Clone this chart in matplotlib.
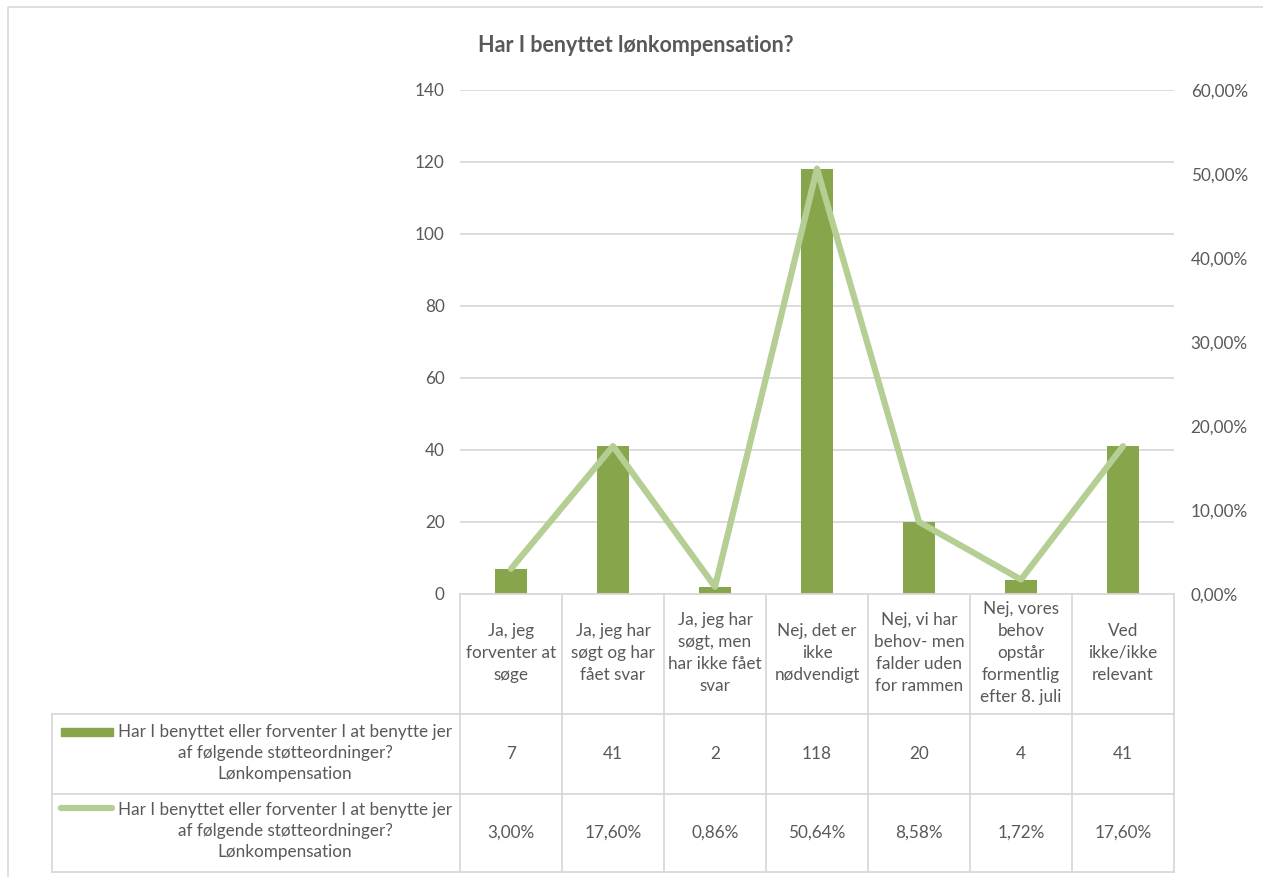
import matplotlib
matplotlib.use("Agg")
import matplotlib.pyplot as plt
from matplotlib.lines import Line2D
from matplotlib.patches import Rectangle

plt.rcParams['font.family'] = ['Lato', 'DejaVu Sans']

# data
categories = ["Ja, jeg\nforventer at\nsøge", "Ja, jeg har\nsøgt og har\nfået svar",
              "Ja, jeg har\nsøgt, men\nhar ikke fået\nsvar", "Nej, det er\nikke\nnødvendigt",
              "Nej, vi har\nbehov- men\nfalder uden\nfor rammen", "Nej, vores\nbehov\nopstår\nformentlig\nefter 8. juli",
              "Ved\nikke/ikke\nrelevant"]
counts = [7, 41, 2, 118, 20, 4, 41]
shares = [3.00, 17.60, 0.86, 50.64, 8.58, 1.72, 17.60]
series_name = "Har I benyttet eller forventer I at benytte jer\naf følgende støtteordninger?\nLønkompensation"
title = "Har I benyttet lønkompensation?"

bar_color = "#87A54B"
line_color = "#B5CE94"
text_color = "#595959"
grid_color = "#D9D9D9"
fs = 12.3

W, H = 1263, 877
fig = plt.figure(figsize=(W / 100, H / 100), dpi=100)

def fx(px):
    return px / W

def fy(py):
    return 1 - py / H

# plot area
left, right, top, bottom = 460, 1174, 90, 594
ax = fig.add_axes([fx(left), fy(bottom), fx(right) - fx(left), fy(top) - fy(bottom)])
x = list(range(len(categories)))
ax.bar(x, counts, width=0.31, color=bar_color, zorder=2)
ax.set_xlim(-0.5, len(categories) - 0.5)
ax.set_ylim(0, 140)
ax.set_yticks(range(0, 141, 20))
ax.yaxis.grid(True, color=grid_color, linewidth=1.3)
ax.set_axisbelow(True)
ax.set_xticks([])
for s in ax.spines.values():
    s.set_visible(False)
ax.tick_params(axis='y', length=0, pad=11, labelsize=fs, labelcolor=text_color)

ax2 = ax.twinx()
ax2.plot(x, shares, color=line_color, linewidth=4.5, solid_capstyle='round', zorder=3)
ax2.set_ylim(0, 60)
ax2.set_yticks(range(0, 61, 10))
ax2.set_yticklabels([f"{v:.2f}".replace(".", ",") + "%" for v in range(0, 61, 10)])
for s in ax2.spines.values():
    s.set_visible(False)
ax2.tick_params(axis='y', length=0, pad=12, labelsize=fs, labelcolor=text_color)

fig.text(fx(636), fy(45), title, ha='center', va='center', fontsize=15.5,
         fontweight='bold', color=text_color)

# chart frame (only top and left edges are in view)
fig.add_artist(Line2D([fx(8), fx(8), 1], [0, fy(7), fy(7)], transform=fig.transFigure,
                      color=grid_color, linewidth=1.2))

# data table
col_w = (right - left) / len(categories)
lw = 1.3

def hline(y, x0, x1):
    fig.add_artist(Line2D([fx(x0), fx(x1)], [fy(y), fy(y)], transform=fig.transFigure,
                          color=grid_color, linewidth=lw))

def vline(xp, y0, y1):
    fig.add_artist(Line2D([fx(xp), fx(xp)], [fy(y0), fy(y1)], transform=fig.transFigure,
                          color=grid_color, linewidth=lw))

hline(594, left, right)
hline(714, 52, right)
hline(794, 52, right)
hline(872, 52, right)
vline(52, 714, 872)
for i in range(len(categories) + 1):
    vline(left + i * col_w, 594, 872)

for i, cat in enumerate(categories):
    cx = left + (i + 0.5) * col_w
    fig.text(fx(cx), fy(653), cat, ha='center', va='center', fontsize=fs,
             color=text_color, linespacing=1.45)
    fig.text(fx(cx), fy(754), str(counts[i]), ha='center', va='center', fontsize=fs,
             color=text_color)
    fig.text(fx(cx), fy(833), f"{shares[i]:.2f}".replace(".", ",") + "%", ha='center',
             va='center', fontsize=fs, color=text_color)

# legend keys in the table
fig.add_artist(Rectangle((fx(61), fy(736)), fx(113) - fx(61), fy(728) - fy(736),
                         transform=fig.transFigure, color=bar_color))
fig.add_artist(Line2D([fx(61), fx(112)], [fy(808), fy(808)], transform=fig.transFigure,
                      color=line_color, linewidth=4.5, solid_capstyle='round'))
for yc in (753, 831):
    fig.text(fx(285), fy(yc), series_name, ha='center', va='center', fontsize=fs,
             color=text_color, linespacing=1.35)

fig.savefig("out.png", dpi=100)
